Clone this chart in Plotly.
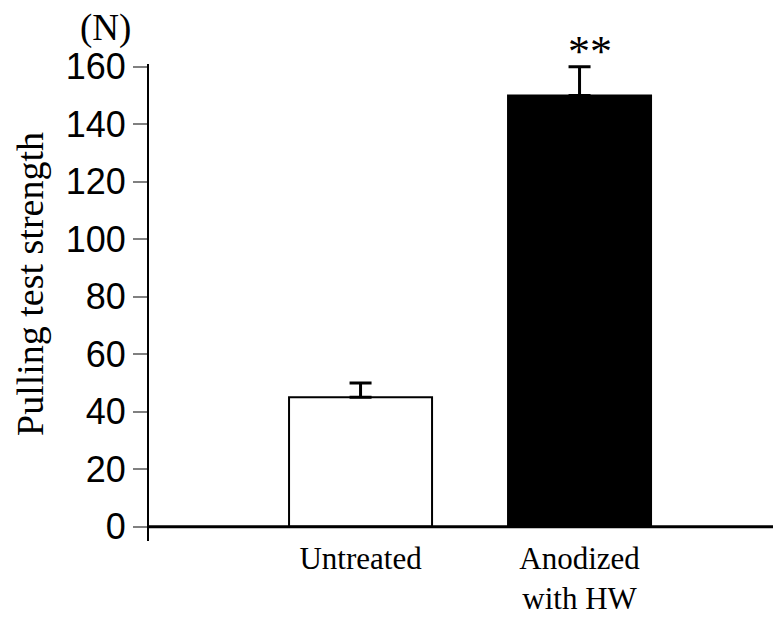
import plotly.graph_objects as go

# values
groups = ["Untreated", "Anodized<br>with HW"]
means = [45, 150]
errors_up = [5, 10]
bar_colors = ["white", "black"]
y_ticks = [0, 20, 40, 60, 80, 100, 120, 140, 160]

SERIF = "Liberation Serif, Times New Roman, serif"
SANS = "Liberation Sans, Arial, sans-serif"

# page body has an 8px margin, so the figure is drawn 8px in from the corner
W, H = 773, 611
L, R, T, B = 141, 7, 56, 78
PW, PH = W - L - R, H - T - B


def paper_x(px):
    return (px - L) / PW


def paper_y(py):
    return (H - B - py) / PH


xpos = list(range(len(groups)))

fig = go.Figure()
fig.add_trace(go.Bar(
    x=xpos, y=means, width=0.653,
    marker=dict(color=bar_colors, line=dict(color="black", width=2)),
    error_y=dict(type="data", symmetric=False, array=errors_up,
                 arrayminus=[0] * len(means), color="black",
                 thickness=3, width=11),
    showlegend=False, hoverinfo="y",
))

# baseline at zero, across the whole plot width
fig.add_shape(type="line", xref="paper", yref="y", x0=0, x1=1, y0=0, y1=0,
              line=dict(color="black", width=3))

fig.add_annotation(x=1, y=160, xref="x", yref="y", text="**", showarrow=False,
                   yanchor="bottom", xshift=10, yshift=-11,
                   font=dict(family=SERIF, size=44, color="black"))
# "(N)" unit label, top left above the axis
fig.add_annotation(x=paper_x(97), y=paper_y(20), xref="paper", yref="paper",
                   text="(N)", showarrow=False, xanchor="center", yanchor="middle",
                   font=dict(family=SERIF, size=37, color="black"))
# y-axis title, sits a bit above the middle of the axis
fig.add_annotation(x=paper_x(22), y=paper_y(276), xref="paper", yref="paper",
                   text="Pulling test strength", textangle=-90, showarrow=False,
                   xanchor="center", yanchor="middle", borderpad=0,
                   font=dict(family=SERIF, size=38, color="black"))

fig.update_layout(
    width=W, height=H,
    margin=dict(l=L, r=R, t=T, b=B),
    plot_bgcolor="white", paper_bgcolor="white",
    xaxis=dict(range=[-0.966, 1.888], tickvals=xpos, ticktext=groups,
               showline=False, showgrid=False, zeroline=False, ticks="",
               automargin=False, ticklabelstandoff=-4,
               tickfont=dict(family=SERIF, size=31, color="black")),
    yaxis=dict(range=[-5, 161], tickvals=y_ticks, showgrid=False, zeroline=False,
               showline=True, linecolor="black", linewidth=2,
               ticks="outside", ticklen=14, tickwidth=2, tickcolor="#808080",
               automargin=False,
               tickfont=dict(family=SANS, size=36, color="black")),
)

fig.write_html("out.html")
